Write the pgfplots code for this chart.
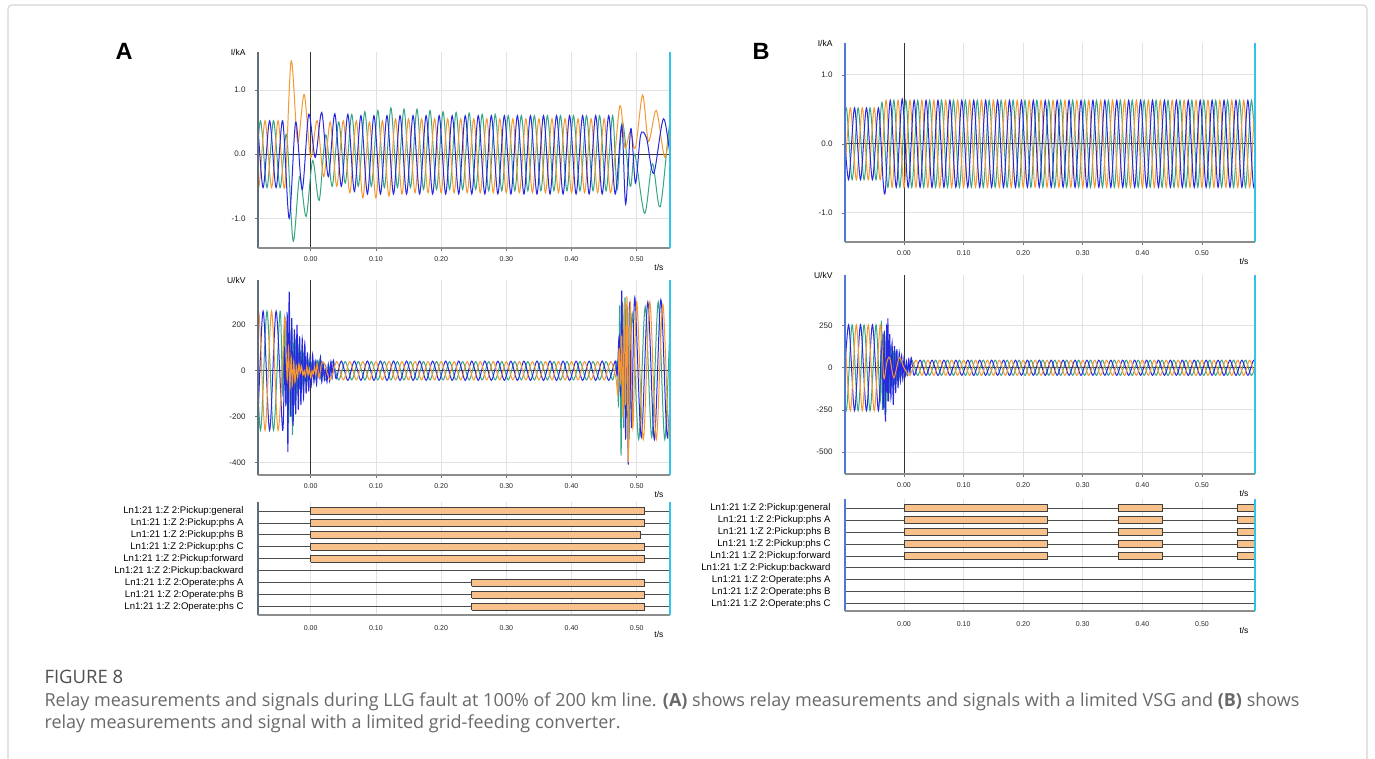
\documentclass[border=0pt]{standalone}
\usepackage{fontspec}
\setmainfont{Liberation Sans}
\newfontfamily\capfont{Open Sans}
\usepackage{pgfplots}
\pgfplotsset{compat=1.18}
\definecolor{phB}{RGB}{40,40,225}
\definecolor{phO}{RGB}{245,152,50}
\definecolor{phG}{RGB}{55,165,135}
\definecolor{cyanax}{RGB}{50,195,235}
\definecolor{gridc}{RGB}{226,226,226}
\definecolor{barfill}{RGB}{248,192,138}
\definecolor{capgray}{RGB}{105,105,105}
\definecolor{capdark}{RGB}{80,80,80}
\definecolor{framegray}{RGB}{212,212,212}
\definecolor{leftA}{RGB}{95,110,120}
\definecolor{leftB}{RGB}{80,120,210}
\newcommand\axframe[1]{%
  \draw[#1, line width=1.2pt] (rel axis cs:0,0) -- (rel axis cs:0,1);
  \draw[black!45, line width=1.4pt] (rel axis cs:0,0) -- (rel axis cs:1,0);
  \draw[cyanax, line width=2pt] (rel axis cs:1,0) -- (rel axis cs:1,1);}
\tikzset{
  unitlab/.style={anchor=east, font=\fontsize{8.5}{9}\selectfont, xshift=-9pt},
  tslab/.style={anchor=north east, font=\fontsize{8.5}{9}\selectfont, xshift=-3pt, yshift=-13pt},
}
\pgfplotsset{
  common/.style={
    scale only axis, clip mode=individual,
    axis line style={draw=none},
    tick align=outside, tick pos=left,
    major tick length=3pt,
    tick style={draw=black!55, line width=0.6pt},
    xtick={0,0.1,0.2,0.3,0.4,0.5},
    xticklabels={0.00,0.10,0.20,0.30,0.40,0.50},
    xticklabel style={font=\fontsize{7}{7}\selectfont, text=black!85, yshift=-2pt},
  },
  wave/.style={
    common,
    grid=major, major grid style={draw=gridc, line width=0.8pt},
    yticklabel style={font=\fontsize{8}{8}\selectfont, text=black!85, xshift=-6pt},
    extra x ticks={0}, extra x tick labels={},
    extra y ticks={0}, extra y tick labels={},
    extra tick style={grid=major, major grid style={draw=black!80, line width=0.8pt}, major tick length=0pt},
  },
  wv/.style={line width=1pt, smooth, mark=none},
  bar/.style={fill=barfill, draw=black!75, line width=0.8pt, mark=none},
  digital/.style={
    common,
    major tick length=0pt,
    xmajorgrids, x grid style={draw=gridc, line width=0.6pt},
    ymajorgrids, y grid style={draw=black!70, line width=0.8pt},
    ymin=-0.7, ymax=8.75,
    ytick={0,1,2,3,4,5,6,7,8},
    yticklabels={Ln1:21 1:Z 2:Operate:phs C,Ln1:21 1:Z 2:Operate:phs B,Ln1:21 1:Z 2:Operate:phs A,Ln1:21 1:Z 2:Pickup:backward,Ln1:21 1:Z 2:Pickup:forward,Ln1:21 1:Z 2:Pickup:phs C,Ln1:21 1:Z 2:Pickup:phs B,Ln1:21 1:Z 2:Pickup:phs A,Ln1:21 1:Z 2:Pickup:general},
    yticklabel style={font=\fontsize{9.6}{10}\selectfont, text=black, xshift=-11pt},
    xticklabel style={yshift=-5pt},
  },
}
\begin{document}
\begin{tikzpicture}[x=1pt,y=1pt]
\useasboundingbox (0,0) rectangle (1375,758);
\fill[white] (0,0) rectangle (1375,758);
\draw[framegray, line width=1.2pt, rounded corners=4pt] (8,-20) -- (8,753) -- (1367,753) -- (1367,-20);
\node[font=\fontsize{23.5}{24}\selectfont\bfseries] at (124,707) {A};
\node[font=\fontsize{23.5}{24}\selectfont\bfseries] at (761,707) {B};

% ===== A current =====
\begin{axis}[wave, at={(258pt,510pt)}, anchor=south west, width=412pt, height=196pt,
  xmin=-0.0808, xmax=0.551, ymin=-1.46, ymax=1.59,
  ytick={-1,0,1}, yticklabels={-1.0,0.0,1.0}]
\addplot[wv, phG] coordinates {(-0.097,0.52)(-0.087,-0.52)(-0.077,0.52)(-0.067,-0.52)(-0.057,0.52)(-0.047,-0.52)(-0.037,0.3)(-0.027,-1.35)(-0.017,-0.35)(-0.007,-0.97)(0.003,-0.1)(0.013,-0.72)(0.023,0.3)(0.033,-0.5)(0.043,0.5)(0.053,-0.45)(0.063,0.62)(0.073,-0.5)(0.083,0.66)(0.093,-0.5)(0.103,0.68)(0.113,-0.52)(0.123,0.72)(0.133,-0.52)(0.143,0.7)(0.153,-0.52)(0.163,0.7)(0.173,-0.55)(0.183,0.68)(0.193,-0.55)(0.203,0.66)(0.213,-0.55)(0.223,0.65)(0.233,-0.55)(0.243,0.64)(0.253,-0.55)(0.263,0.62)(0.273,-0.57)(0.283,0.62)(0.293,-0.57)(0.303,0.6)(0.313,-0.57)(0.323,0.6)(0.333,-0.57)(0.343,0.6)(0.353,-0.57)(0.363,0.6)(0.373,-0.57)(0.383,0.6)(0.393,-0.57)(0.403,0.6)(0.413,-0.57)(0.423,0.6)(0.433,-0.57)(0.443,0.6)(0.453,-0.57)(0.463,0.6)(0.470,-0.55)(0.478,0.5)(0.490,-0.5)(0.497,0.0)(0.512,-0.92)(0.524,-0.15)(0.536,-0.82)(0.551,0.5)(0.56,0.3)};
\addplot[wv, phO] coordinates {(-0.090,0.52)(-0.080,-0.52)(-0.070,0.52)(-0.060,-0.52)(-0.050,0.52)(-0.040,-0.52)(-0.030,1.45)(-0.020,0.19)(-0.010,0.93)(0.000,-0.05)(0.010,0.52)(0.020,-0.35)(0.030,0.5)(0.040,-0.5)(0.050,0.52)(0.060,-0.6)(0.070,0.52)(0.080,-0.68)(0.090,0.5)(0.100,-0.68)(0.110,0.52)(0.120,-0.65)(0.130,0.55)(0.140,-0.62)(0.150,0.55)(0.160,-0.6)(0.170,0.55)(0.180,-0.6)(0.190,0.55)(0.200,-0.6)(0.210,0.55)(0.220,-0.6)(0.230,0.55)(0.240,-0.6)(0.250,0.55)(0.260,-0.6)(0.270,0.55)(0.280,-0.6)(0.290,0.55)(0.300,-0.6)(0.310,0.55)(0.320,-0.6)(0.330,0.55)(0.340,-0.6)(0.350,0.55)(0.360,-0.6)(0.370,0.55)(0.380,-0.6)(0.390,0.55)(0.400,-0.6)(0.410,0.55)(0.420,-0.6)(0.430,0.55)(0.440,-0.6)(0.450,0.55)(0.460,-0.6)(0.474,0.75)(0.482,0.1)(0.490,0.35)(0.498,0.1)(0.509,0.92)(0.518,0.2)(0.530,0.68)(0.543,-0.05)(0.553,0.5)(0.56,0.2)};
\addplot[wv, phB] coordinates {(-0.093,-0.52)(-0.083,0.52)(-0.073,-0.52)(-0.063,0.52)(-0.053,-0.52)(-0.043,0.52)(-0.033,-1.0)(-0.023,0.5)(-0.013,-0.55)(-0.003,0.62)(0.007,-0.05)(0.017,0.65)(0.027,-0.35)(0.037,0.63)(0.047,-0.5)(0.057,0.62)(0.067,-0.58)(0.077,0.6)(0.087,-0.62)(0.097,0.6)(0.107,-0.62)(0.117,0.6)(0.127,-0.62)(0.137,0.6)(0.147,-0.62)(0.157,0.6)(0.167,-0.62)(0.177,0.6)(0.187,-0.62)(0.197,0.6)(0.207,-0.62)(0.217,0.6)(0.227,-0.62)(0.237,0.6)(0.247,-0.62)(0.257,0.6)(0.267,-0.62)(0.277,0.6)(0.287,-0.62)(0.297,0.6)(0.307,-0.62)(0.317,0.6)(0.327,-0.62)(0.337,0.6)(0.347,-0.62)(0.357,0.6)(0.367,-0.62)(0.377,0.6)(0.387,-0.62)(0.397,0.6)(0.407,-0.62)(0.417,0.6)(0.427,-0.62)(0.437,0.6)(0.447,-0.62)(0.457,0.6)(0.467,-0.62)(0.477,0.45)(0.483,-0.78)(0.491,0.4)(0.498,-0.45)(0.506,0.3)(0.515,0.25)(0.526,-0.3)(0.541,0.55)(0.553,-0.1)(0.56,0.1)};
\axframe{leftA}
\node[unitlab] at (rel axis cs:0,1) {I/kA};
\node[tslab] at (rel axis cs:1,0) {t/s};
\end{axis}

% ===== A voltage =====
\begin{axis}[wave, at={(258pt,283pt)}, anchor=south west, width=412pt, height=195pt,
  xmin=-0.0808, xmax=0.551, ymin=-455, ymax=396,
  ytick={-400,-200,0,200}, yticklabels={-400,-200,0,200}]
\addplot[wv, phG] coordinates {(-0.097,-260)(-0.087,260)(-0.077,-260)(-0.067,260)(-0.057,-260)(-0.047,260)(-0.043,-100)(-0.040,230)(-0.038,-150)(-0.036,200)(-0.034,-230)(-0.032,180)(-0.030,-200)(-0.029,150)(-0.028,-280)(-0.026,120)(-0.025,-150)(-0.023,130)(-0.021,-100)(-0.019,100)(-0.017,-80)(-0.015,90)(-0.013,-60)(-0.011,70)(-0.009,-50)(-0.007,50)(-0.005,-40)(-0.003,40)(-0.001,-30)(0.001,30)(0.003,-20)(0.005,40)(0.007,-30)(0.009,40)(0.011,-20)(0.013,45)(0.015,-30)(0.017,40)(0.023,-40)(0.033,40)(0.043,-40)(0.053,40)(0.063,-40)(0.073,40)(0.083,-40)(0.093,40)(0.103,-40)(0.113,40)(0.123,-40)(0.133,40)(0.143,-40)(0.153,40)(0.163,-40)(0.173,40)(0.183,-40)(0.193,40)(0.203,-40)(0.213,40)(0.223,-40)(0.233,40)(0.243,-40)(0.253,40)(0.263,-40)(0.273,40)(0.283,-40)(0.293,40)(0.303,-40)(0.313,40)(0.323,-40)(0.333,40)(0.343,-40)(0.353,40)(0.363,-40)(0.373,40)(0.383,-40)(0.393,40)(0.403,-40)(0.413,40)(0.423,-40)(0.433,40)(0.443,-40)(0.453,40)(0.463,-40)(0.470,40)(0.472,-150)(0.474,280)(0.476,-370)(0.478,300)(0.480,-250)(0.482,320)(0.484,-200)(0.486,280)(0.488,-300)(0.493,250)(0.503,-300)(0.513,280)(0.523,-290)(0.533,300)(0.543,-300)(0.553,300)(0.56,0)};
\addplot[wv, phB] coordinates {(-0.093,260)(-0.083,-260)(-0.073,260)(-0.063,-260)(-0.053,260)(-0.043,-260)(-0.040,100)(-0.038,-150)(-0.036,250)(-0.035,-355)(-0.033,345)(-0.031,-200)(-0.029,230)(-0.027,-240)(-0.025,180)(-0.023,-190)(-0.021,200)(-0.019,-170)(-0.017,150)(-0.015,-150)(-0.013,140)(-0.011,-120)(-0.009,120)(-0.007,-100)(-0.005,80)(-0.003,-90)(-0.001,60)(0.001,-60)(0.003,70)(0.005,-50)(0.007,40)(0.009,-60)(0.011,40)(0.013,-30)(0.015,60)(0.017,-50)(0.019,30)(0.021,-40)(0.023,20)(0.025,-50)(0.027,30)(0.029,-45)(0.031,40)(0.033,-30)(0.035,45)(0.039,-35)(0.047,42)(0.057,-42)(0.067,42)(0.077,-42)(0.087,42)(0.097,-42)(0.107,42)(0.117,-42)(0.127,42)(0.137,-42)(0.147,42)(0.157,-42)(0.167,42)(0.177,-42)(0.187,42)(0.197,-42)(0.207,42)(0.217,-42)(0.227,42)(0.237,-42)(0.247,42)(0.257,-42)(0.267,42)(0.277,-42)(0.287,42)(0.297,-42)(0.307,42)(0.317,-42)(0.327,42)(0.337,-42)(0.347,42)(0.357,-42)(0.367,42)(0.377,-42)(0.387,42)(0.397,-42)(0.407,42)(0.417,-42)(0.427,42)(0.437,-42)(0.447,42)(0.457,-42)(0.467,42)(0.470,-20)(0.473,150)(0.475,-100)(0.477,350)(0.479,-150)(0.481,250)(0.483,-300)(0.485,200)(0.487,-410)(0.489,300)(0.492,-250)(0.497,320)(0.507,-290)(0.517,300)(0.527,-300)(0.537,310)(0.547,-290)(0.557,300)};
\addplot[wv, phO] coordinates {(-0.100,260)(-0.090,-260)(-0.080,260)(-0.070,-260)(-0.060,260)(-0.050,-260)(-0.040,220)(-0.038,120)(-0.036,-40)(-0.034,100)(-0.032,-80)(-0.030,60)(-0.028,-60)(-0.026,40)(-0.024,-50)(-0.022,20)(-0.020,-30)(-0.018,30)(-0.016,-10)(-0.014,20)(-0.012,-20)(-0.010,0)(-0.008,-25)(-0.006,20)(-0.004,-20)(-0.002,10)(0.000,-30)(0.002,0)(0.004,-15)(0.006,20)(0.008,-20)(0.010,30)(0.013,-30)(0.016,25)(0.020,38)(0.030,-40)(0.040,40)(0.050,-40)(0.060,40)(0.070,-40)(0.080,40)(0.090,-40)(0.100,40)(0.110,-40)(0.120,40)(0.130,-40)(0.140,40)(0.150,-40)(0.160,40)(0.170,-40)(0.180,40)(0.190,-40)(0.200,40)(0.210,-40)(0.220,40)(0.230,-40)(0.240,40)(0.250,-40)(0.260,40)(0.270,-40)(0.280,40)(0.290,-40)(0.300,40)(0.310,-40)(0.320,40)(0.330,-40)(0.340,40)(0.350,-40)(0.360,40)(0.370,-40)(0.380,40)(0.390,-40)(0.400,40)(0.410,-40)(0.420,40)(0.430,-40)(0.440,40)(0.450,-40)(0.460,40)(0.468,-30)(0.471,-100)(0.473,100)(0.475,-50)(0.477,150)(0.479,-200)(0.481,300)(0.483,-150)(0.485,320)(0.487,-400)(0.490,300)(0.494,-250)(0.500,300)(0.510,-300)(0.520,300)(0.530,-300)(0.540,290)(0.550,-300)(0.560,300)};
\axframe{leftA}
\node[unitlab] at (rel axis cs:0,1) {U/kV};
\node[tslab] at (rel axis cs:1,0) {t/s};
\end{axis}

% ===== A digital =====
\begin{axis}[digital, at={(258pt,143pt)}, anchor=south west, width=412pt, height=113pt,
  xmin=-0.0808, xmax=0.551]
\addplot[bar] coordinates {(0,7.7)(0.511,7.7)(0.511,8.3)(0,8.3)(0,7.7)};
\addplot[bar] coordinates {(0,6.7)(0.511,6.7)(0.511,7.3)(0,7.3)(0,6.7)};
\addplot[bar] coordinates {(0,5.7)(0.506,5.7)(0.506,6.3)(0,6.3)(0,5.7)};
\addplot[bar] coordinates {(0,4.7)(0.511,4.7)(0.511,5.3)(0,5.3)(0,4.7)};
\addplot[bar] coordinates {(0,3.7)(0.511,3.7)(0.511,4.3)(0,4.3)(0,3.7)};
\addplot[bar] coordinates {(0.247,1.7)(0.511,1.7)(0.511,2.3)(0.247,2.3)(0.247,1.7)};
\addplot[bar] coordinates {(0.247,0.7)(0.511,0.7)(0.511,1.3)(0.247,1.3)(0.247,0.7)};
\addplot[bar] coordinates {(0.247,-0.3)(0.511,-0.3)(0.511,0.3)(0.247,0.3)(0.247,-0.3)};
\axframe{leftA}
\node[tslab] at (rel axis cs:1,0) {t/s};
\end{axis}

% ===== B current =====
\begin{axis}[wave, at={(845pt,516pt)}, anchor=south west, width=410pt, height=198.5pt,
  xmin=-0.099, xmax=0.589, ymin=-1.423, ymax=1.454,
  ytick={-1,0,1}, yticklabels={-1.0,0.0,1.0}]
\addplot[wv, phG] coordinates {(-0.107,-0.52)(-0.097,0.52)(-0.087,-0.52)(-0.077,0.52)(-0.067,-0.52)(-0.057,0.52)(-0.047,-0.52)(-0.037,0.6)(-0.027,-0.63)(-0.017,0.63)(-0.007,-0.63)(0.003,0.63)(0.013,-0.63)(0.023,0.63)(0.033,-0.63)(0.043,0.63)(0.053,-0.63)(0.063,0.63)(0.073,-0.63)(0.083,0.63)(0.093,-0.63)(0.103,0.63)(0.113,-0.63)(0.123,0.63)(0.133,-0.63)(0.143,0.63)(0.153,-0.63)(0.163,0.63)(0.173,-0.63)(0.183,0.63)(0.193,-0.63)(0.203,0.63)(0.213,-0.63)(0.223,0.63)(0.233,-0.63)(0.243,0.63)(0.253,-0.63)(0.263,0.63)(0.273,-0.63)(0.283,0.63)(0.293,-0.63)(0.303,0.63)(0.313,-0.63)(0.323,0.63)(0.333,-0.63)(0.343,0.63)(0.353,-0.63)(0.363,0.63)(0.373,-0.63)(0.383,0.63)(0.393,-0.63)(0.403,0.63)(0.413,-0.63)(0.423,0.63)(0.433,-0.63)(0.443,0.63)(0.453,-0.63)(0.463,0.63)(0.473,-0.63)(0.483,0.63)(0.493,-0.63)(0.503,0.63)(0.513,-0.63)(0.523,0.63)(0.533,-0.63)(0.543,0.63)(0.553,-0.63)(0.563,0.63)(0.573,-0.63)(0.583,0.63)(0.593,-0.63)};
\addplot[wv, phO] coordinates {(-0.100,-0.52)(-0.090,0.52)(-0.080,-0.52)(-0.070,0.52)(-0.060,-0.52)(-0.050,0.52)(-0.040,-0.52)(-0.030,0.63)(-0.020,-0.63)(-0.010,0.63)(0.000,-0.63)(0.010,0.63)(0.020,-0.63)(0.030,0.63)(0.040,-0.63)(0.050,0.63)(0.060,-0.63)(0.070,0.63)(0.080,-0.63)(0.090,0.63)(0.100,-0.63)(0.110,0.63)(0.120,-0.63)(0.130,0.63)(0.140,-0.63)(0.150,0.63)(0.160,-0.63)(0.170,0.63)(0.180,-0.63)(0.190,0.63)(0.200,-0.63)(0.210,0.63)(0.220,-0.63)(0.230,0.63)(0.240,-0.63)(0.250,0.63)(0.260,-0.63)(0.270,0.63)(0.280,-0.63)(0.290,0.63)(0.300,-0.63)(0.310,0.63)(0.320,-0.63)(0.330,0.63)(0.340,-0.63)(0.350,0.63)(0.360,-0.63)(0.370,0.63)(0.380,-0.63)(0.390,0.63)(0.400,-0.63)(0.410,0.63)(0.420,-0.63)(0.430,0.63)(0.440,-0.63)(0.450,0.63)(0.460,-0.63)(0.470,0.63)(0.480,-0.63)(0.490,0.63)(0.500,-0.63)(0.510,0.63)(0.520,-0.63)(0.530,0.63)(0.540,-0.63)(0.550,0.63)(0.560,-0.63)(0.570,0.63)(0.580,-0.63)(0.590,0.63)(0.600,-0.63)};
\addplot[wv, phB] coordinates {(-0.103,0.52)(-0.093,-0.52)(-0.083,0.52)(-0.073,-0.52)(-0.063,0.52)(-0.053,-0.52)(-0.043,0.52)(-0.035,-0.55)(-0.031,-0.65)(-0.023,0.63)(-0.013,-0.63)(-0.003,0.65)(0.007,-0.63)(0.017,0.63)(0.027,-0.63)(0.037,0.63)(0.047,-0.63)(0.057,0.63)(0.067,-0.63)(0.077,0.63)(0.087,-0.63)(0.097,0.63)(0.107,-0.63)(0.117,0.63)(0.127,-0.63)(0.137,0.63)(0.147,-0.63)(0.157,0.63)(0.167,-0.63)(0.177,0.63)(0.187,-0.63)(0.197,0.63)(0.207,-0.63)(0.217,0.63)(0.227,-0.63)(0.237,0.63)(0.247,-0.63)(0.257,0.63)(0.267,-0.63)(0.277,0.63)(0.287,-0.63)(0.297,0.63)(0.307,-0.63)(0.317,0.63)(0.327,-0.63)(0.337,0.63)(0.347,-0.63)(0.357,0.63)(0.367,-0.63)(0.377,0.63)(0.387,-0.63)(0.397,0.63)(0.407,-0.63)(0.417,0.63)(0.427,-0.63)(0.437,0.63)(0.447,-0.63)(0.457,0.63)(0.467,-0.63)(0.477,0.63)(0.487,-0.63)(0.497,0.63)(0.507,-0.63)(0.517,0.63)(0.527,-0.63)(0.537,0.63)(0.547,-0.63)(0.557,0.63)(0.567,-0.63)(0.577,0.63)(0.587,-0.63)(0.597,0.63)};
\axframe{leftB}
\node[unitlab] at (rel axis cs:0,1) {I/kA};
\node[tslab] at (rel axis cs:1,0) {t/s};
\end{axis}

% ===== B voltage =====
\begin{axis}[wave, at={(845pt,284pt)}, anchor=south west, width=410pt, height=199pt,
  xmin=-0.099, xmax=0.589, ymin=-631, ymax=551,
  ytick={-500,-250,0,250}, yticklabels={-500,-250,0,250}]
\addplot[wv, phG] coordinates {(-0.107,255)(-0.097,-255)(-0.087,255)(-0.077,-255)(-0.067,255)(-0.057,-255)(-0.047,255)(-0.040,-200)(-0.038,280)(-0.036,-250)(-0.034,200)(-0.032,-280)(-0.030,180)(-0.028,-200)(-0.026,150)(-0.024,-150)(-0.022,130)(-0.020,-120)(-0.018,100)(-0.016,-100)(-0.014,80)(-0.012,-70)(-0.010,60)(-0.008,-60)(-0.006,50)(-0.004,-40)(-0.002,40)(0.003,-45)(0.013,45)(0.023,-45)(0.033,45)(0.043,-45)(0.053,45)(0.063,-45)(0.073,45)(0.083,-45)(0.093,45)(0.103,-45)(0.113,45)(0.123,-45)(0.133,45)(0.143,-45)(0.153,45)(0.163,-45)(0.173,45)(0.183,-45)(0.193,45)(0.203,-45)(0.213,45)(0.223,-45)(0.233,45)(0.243,-45)(0.253,45)(0.263,-45)(0.273,45)(0.283,-45)(0.293,45)(0.303,-45)(0.313,45)(0.323,-45)(0.333,45)(0.343,-45)(0.353,45)(0.363,-45)(0.373,45)(0.383,-45)(0.393,45)(0.403,-45)(0.413,45)(0.423,-45)(0.433,45)(0.443,-45)(0.453,45)(0.463,-45)(0.473,45)(0.483,-45)(0.493,45)(0.503,-45)(0.513,45)(0.523,-45)(0.533,45)(0.543,-45)(0.553,45)(0.563,-45)(0.573,45)(0.583,-45)(0.593,45)};
\addplot[wv, phB] coordinates {(-0.103,-255)(-0.093,255)(-0.083,-255)(-0.073,255)(-0.063,-255)(-0.053,255)(-0.043,-255)(-0.037,200)(-0.035,-250)(-0.033,220)(-0.031,-320)(-0.029,250)(-0.028,-150)(-0.027,293)(-0.026,-200)(-0.024,200)(-0.022,-180)(-0.020,150)(-0.018,-220)(-0.016,130)(-0.014,-150)(-0.012,110)(-0.010,-120)(-0.008,90)(-0.006,-80)(-0.004,70)(-0.002,-70)(0.000,60)(0.002,-50)(0.004,40)(0.006,-40)(0.008,50)(0.010,-30)(0.012,60)(0.017,-45)(0.027,45)(0.037,-45)(0.047,45)(0.057,-45)(0.067,45)(0.077,-45)(0.087,45)(0.097,-45)(0.107,45)(0.117,-45)(0.127,45)(0.137,-45)(0.147,45)(0.157,-45)(0.167,45)(0.177,-45)(0.187,45)(0.197,-45)(0.207,45)(0.217,-45)(0.227,45)(0.237,-45)(0.247,45)(0.257,-45)(0.267,45)(0.277,-45)(0.287,45)(0.297,-45)(0.307,45)(0.317,-45)(0.327,45)(0.337,-45)(0.347,45)(0.357,-45)(0.367,45)(0.377,-45)(0.387,45)(0.397,-45)(0.407,45)(0.417,-45)(0.427,45)(0.437,-45)(0.447,45)(0.457,-45)(0.467,45)(0.477,-45)(0.487,45)(0.497,-45)(0.507,45)(0.517,-45)(0.527,45)(0.537,-45)(0.547,45)(0.557,-45)(0.567,45)(0.577,-45)(0.587,45)(0.597,-45)};
\addplot[wv, phO] coordinates {(-0.100,255)(-0.090,-255)(-0.080,255)(-0.070,-255)(-0.060,255)(-0.050,-255)(-0.040,255)(-0.034,-60)(-0.029,30)(-0.024,60)(-0.017,-60)(-0.008,60)(0.000,0)(0.010,-45)(0.020,45)(0.030,-45)(0.040,45)(0.050,-45)(0.060,45)(0.070,-45)(0.080,45)(0.090,-45)(0.100,45)(0.110,-45)(0.120,45)(0.130,-45)(0.140,45)(0.150,-45)(0.160,45)(0.170,-45)(0.180,45)(0.190,-45)(0.200,45)(0.210,-45)(0.220,45)(0.230,-45)(0.240,45)(0.250,-45)(0.260,45)(0.270,-45)(0.280,45)(0.290,-45)(0.300,45)(0.310,-45)(0.320,45)(0.330,-45)(0.340,45)(0.350,-45)(0.360,45)(0.370,-45)(0.380,45)(0.390,-45)(0.400,45)(0.410,-45)(0.420,45)(0.430,-45)(0.440,45)(0.450,-45)(0.460,45)(0.470,-45)(0.480,45)(0.490,-45)(0.500,45)(0.510,-45)(0.520,45)(0.530,-45)(0.540,45)(0.550,-45)(0.560,45)(0.570,-45)(0.580,45)(0.590,-45)(0.600,45)};
\axframe{leftB}
\node[unitlab] at (rel axis cs:0,1) {U/kV};
\node[tslab] at (rel axis cs:1,0) {t/s};
\end{axis}

% ===== B digital =====
\begin{axis}[digital, at={(845pt,147pt)}, anchor=south west, width=410pt, height=112pt,
  xmin=-0.099, xmax=0.589, ymin=-0.6]
\addplot[bar] coordinates {(0,7.7)(0.241,7.7)(0.241,8.3)(0,8.3)(0,7.7)};
\addplot[bar] coordinates {(0.359,7.7)(0.434,7.7)(0.434,8.3)(0.359,8.3)(0.359,7.7)};
\addplot[bar] coordinates {(0.559,7.7)(0.6,7.7)(0.6,8.3)(0.559,8.3)(0.559,7.7)};
\addplot[bar] coordinates {(0,6.7)(0.241,6.7)(0.241,7.3)(0,7.3)(0,6.7)};
\addplot[bar] coordinates {(0.359,6.7)(0.434,6.7)(0.434,7.3)(0.359,7.3)(0.359,6.7)};
\addplot[bar] coordinates {(0.559,6.7)(0.6,6.7)(0.6,7.3)(0.559,7.3)(0.559,6.7)};
\addplot[bar] coordinates {(0,5.7)(0.241,5.7)(0.241,6.3)(0,6.3)(0,5.7)};
\addplot[bar] coordinates {(0.359,5.7)(0.434,5.7)(0.434,6.3)(0.359,6.3)(0.359,5.7)};
\addplot[bar] coordinates {(0.559,5.7)(0.6,5.7)(0.6,6.3)(0.559,6.3)(0.559,5.7)};
\addplot[bar] coordinates {(0,4.7)(0.241,4.7)(0.241,5.3)(0,5.3)(0,4.7)};
\addplot[bar] coordinates {(0.359,4.7)(0.434,4.7)(0.434,5.3)(0.359,5.3)(0.359,4.7)};
\addplot[bar] coordinates {(0.559,4.7)(0.6,4.7)(0.6,5.3)(0.559,5.3)(0.559,4.7)};
\addplot[bar] coordinates {(0,3.7)(0.241,3.7)(0.241,4.3)(0,4.3)(0,3.7)};
\addplot[bar] coordinates {(0.359,3.7)(0.434,3.7)(0.434,4.3)(0.359,4.3)(0.359,3.7)};
\addplot[bar] coordinates {(0.559,3.7)(0.6,3.7)(0.6,4.3)(0.559,4.3)(0.559,3.7)};
\axframe{leftB}
\node[tslab] at (rel axis cs:1,0) {t/s};
\end{axis}

% ===== caption =====
\node[anchor=west, font=\capfont\fontsize{18.5}{19}\selectfont, text=capdark] at (41,81) {FIGURE 8};
\node[anchor=west, font=\capfont\fontsize{18}{19}\selectfont, text=capgray] at (41,56) {Relay measurements and signals during LLG fault at 100\% of 200 km line. \textbf{(A)} shows relay measurements and signals with a limited VSG and \textbf{(B)} shows};
\node[anchor=west, font=\capfont\fontsize{18}{19}\selectfont, text=capgray] at (41,34) {relay measurements and signal with a limited grid-feeding converter.};
\end{tikzpicture}
\end{document}
